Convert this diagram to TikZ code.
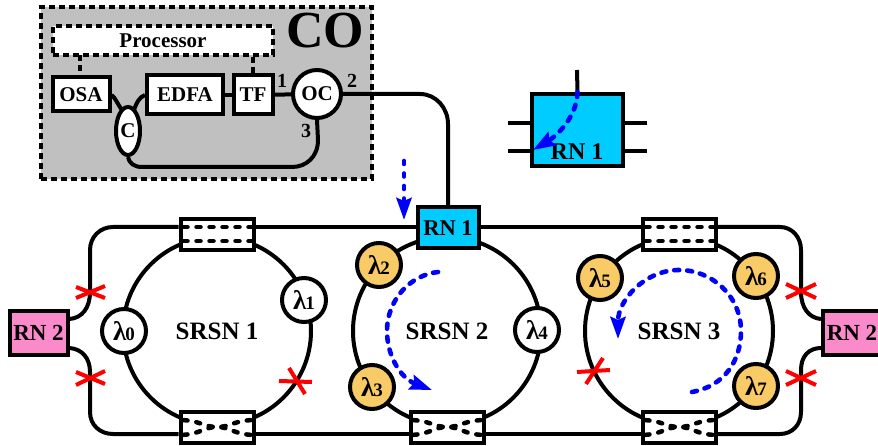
\documentclass[tikz,border=0pt]{standalone}
\usepackage{fontspec}
\usepackage{xcolor}
\usepackage{tikz}
\usetikzlibrary{arrows.meta,shapes.geometric}
\setmainfont{Liberation Serif}
\definecolor{cogray}{HTML}{C0C0C0}
\definecolor{rnblue}{HTML}{00CCFF}
\definecolor{rnpink}{HTML}{FB8ACB}
\definecolor{lamgold}{HTML}{F9CB66}
\newcommand{\lam}[1]{{\fontsize{27}{27}\selectfont λ}\kern-1pt{\fontsize{19}{19}\selectfont #1}}
\tikzset{
  txt/.style={font=\bfseries\fontsize{21}{24}\selectfont,inner sep=0},
  box/.style={txt,draw,line width=4,fill=white,rectangle},
  fiber/.style={line width=4},
  procdash/.style={line width=4,dash pattern=on 6 off 4},
  cpdash/.style={line width=4.5,line cap=round,dash pattern=on 4 off 9,dash phase=-5},
  coupler/.style={draw,line width=4,fill=white,minimum width=73,minimum height=31,inner sep=0},
  ring/.style={txt,font=\bfseries\fontsize{25}{28}\selectfont,draw,circle,line width=4,minimum size=188},
  lamw/.style={txt,draw,circle,line width=4,fill=white,minimum size=44},
  lamy/.style={lamw,fill=lamgold},
  redx/.style={red,line width=4},
  bluedash/.style={blue,line width=4.6,line cap=round,dash pattern=on 5 off 8,-{Stealth[length=22,width=15,inset=3]}}
}
\begin{document}
\begin{tikzpicture}[x=1pt,y=1pt,yscale=-1]
\useasboundingbox (0,0) rectangle (878,446);
% central office
\node[draw,line width=4,dash pattern=on 6 off 4,fill=cogray,minimum width=331,minimum height=172,inner sep=0] (co) at (206,93.5) {};
\node[txt,font=\bfseries\fontsize{52}{56}\selectfont] (colabel) at (325,31) {CO};
\node[box,dash pattern=on 6 off 4,minimum width=220,minimum height=29] (proc) at (163,40.5) {Processor};
\node[box,minimum width=57,minimum height=34] (osa) at (81,94.5) {OSA};
\node[box,minimum width=76,minimum height=39] (edfa) at (185,95) {EDFA};
\node[box,minimum width=39,minimum height=39] (tf) at (253,95) {TF};
\node[box,circle,minimum size=48] (oc) at (317,94) {OC};
\node[box,ellipse,minimum width=24,minimum height=48] (cpl) at (128,131) {C};
\node[txt,font=\bfseries\fontsize{20}{20}\selectfont] (pa) at (282,81) {1};
\node[txt,font=\bfseries\fontsize{20}{20}\selectfont] (pb) at (352,81) {2};
\node[txt,font=\bfseries\fontsize{20}{20}\selectfont] (pc) at (306,131) {3};
%
\draw[procdash] (80,55)--(osa.north -| 80,0);
\draw[procdash] (tf.north |- proc.south)--(tf.north);
\draw[fiber] (edfa)--(tf);
\draw[fiber] (tf)--(oc);
\draw[fiber] (osa.east |- 0,95) .. controls (115,97) and (118,105) .. (122,110);
\draw[fiber] (edfa.west |- 0,95) .. controls (139,97) and (136,104) .. (134,110);
\draw[fiber] (oc.south)--(318,140) .. controls (318,157) and (306,167) .. (292,167)--(142,167) .. controls (134,167) and (129,163) .. (cpl.south);
% rings
\node[ring] (srsna) at (217,331) {SRSN 1};
\node[ring] (srsnb) at (447,331) {SRSN 2};
\node[ring] (srsnc) at (679,331) {SRSN 3};
% couplers and remote nodes
\node[coupler] (cpa) at (217,234.5) {};
\node[coupler] (cpb) at (217,427) {};
\node[coupler] (cpc) at (679,234.5) {};
\node[coupler] (cpd) at (447,427) {};
\node[coupler] (cpe) at (679,427) {};
\node[box,fill=rnblue,minimum width=61,minimum height=41] (rna) at (448,228) {\fontsize{22.5}{24}\selectfont RN 1};
\node[box,fill=rnpink,minimum width=58,minimum height=44] (rnl) at (38.5,333) {\fontsize{23}{24}\selectfont RN 2};
\node[box,fill=rnpink,minimum width=58,minimum height=44] (rnr) at (852,333) {\fontsize{23}{24}\selectfont RN 2};
%
\draw[fiber] (oc.east)--(420,94) .. controls (436,94) and (448,108) .. (448,124)--(rna.north);
\draw[fiber] (rnl.east |- 0,319) .. controls (82,318) and (90,308) .. (90,292)--(90,250) .. controls (90,237) and (100,227) .. (113,227)--(cpa.west |- 0,227);
\draw[fiber] (rnl.east |- 0,348) .. controls (82,349) and (90,358) .. (90,372)--(90,412) .. controls (90,425) and (100,434) .. (113,434)--(cpb.west |- 0,434);
\draw[fiber] (cpa.east |- 0,227)--(rna.west |- 0,227);
\draw[fiber] (rna.east |- 0,227)--(cpc.west |- 0,227);
\draw[fiber] (cpb.east |- 0,434)--(cpd.west |- 0,434);
\draw[fiber] (cpd.east |- 0,434)--(cpe.west |- 0,434);
\draw[fiber] (cpc.east |- 0,227)--(780,227) .. controls (792,227) and (801,237) .. (801,250)--(801,292) .. controls (801,308) and (809,318) .. (rnr.west |- 0,319);
\draw[fiber] (cpe.east |- 0,434)--(780,434) .. controls (792,434) and (801,425) .. (801,412)--(801,370) .. controls (801,356) and (809,348) .. (rnr.west |- 0,348);
% coupler insides
\draw[cpdash] (cpa.west |- 0,227)--(cpa.east |- 0,227);
\draw[cpdash] (cpa.west |- 0,241)--(cpa.east |- 0,241);
\draw[cpdash] (cpc.west |- 0,227)--(cpc.east |- 0,227);
\draw[cpdash] (cpc.west |- 0,241)--(cpc.east |- 0,241);
\draw[cpdash] (cpb.west |- 0,420) .. controls (200,420) and (203,427) .. (cpb.center) .. controls (231,427) and (234,420) .. (cpb.east |- 0,420);
\draw[cpdash] (cpb.west |- 0,435) .. controls (200,435) and (203,427) .. (cpb.center) .. controls (231,427) and (234,435) .. (cpb.east |- 0,435);
\draw[cpdash] (cpd.west |- 0,420) .. controls (430,420) and (433,427) .. (cpd.center) .. controls (461,427) and (464,420) .. (cpd.east |- 0,420);
\draw[cpdash] (cpd.west |- 0,435) .. controls (430,435) and (433,427) .. (cpd.center) .. controls (461,427) and (464,435) .. (cpd.east |- 0,435);
\draw[cpdash] (cpe.west |- 0,420) .. controls (662,420) and (665,427) .. (cpe.center) .. controls (693,427) and (696,420) .. (cpe.east |- 0,420);
\draw[cpdash] (cpe.west |- 0,435) .. controls (662,435) and (665,427) .. (cpe.center) .. controls (693,427) and (696,435) .. (cpe.east |- 0,435);
% wavelengths
\node[lamw] (lza) at (124,331) {\lam{0}};
\node[lamw] (lzb) at (304,300) {\lam{1}};
\node[lamy] (lzc) at (379,265) {\lam{2}};
\node[lamy] (lzd) at (372,387) {\lam{3}};
\node[lamw] (lze) at (537,330) {\lam{4}};
\node[lamy] (lzf) at (600,278) {\lam{5}};
\node[lamy] (lzg) at (756,276) {\lam{6}};
\node[lamy] (lzh) at (756,386) {\lam{7}};
% fibre breaks
\draw[redx] (76,287)--(105,298);
\draw[redx] (76,298)--(105,286);
\draw[redx] (76,372)--(105,384);
\draw[redx] (76,385)--(105,371);
\draw[redx] (279,381)--(312,382);
\draw[redx] (289,368)--(305,394);
\draw[redx] (577,372)--(610,370);
\draw[redx] (586,384)--(603,358);
\draw[redx] (786,284)--(816,298);
\draw[redx] (786,298)--(816,284);
\draw[redx] (786,371)--(816,385);
\draw[redx] (786,385)--(816,371);
% signal direction
\draw[bluedash,dash pattern=on 3 off 9.5] (404,161)--(404,220);
\draw[bluedash] (438,272) .. controls (410,275) and (387,300) .. (387,331) .. controls (387,355) and (400,378) .. (432,390);
\draw[bluedash] (692,392) .. controls (725,386) and (741,360) .. (741,331) .. controls (741,296) and (712,270) .. (679,270) .. controls (645,270) and (618,300) .. (618,339);
% legend of the remote node
\node[box,fill=rnblue,minimum width=91,minimum height=72] (rnb) at (577.5,130) {};
\node[txt,font=\bfseries\fontsize{24}{24}\selectfont] (rnbt) at (577,152) {RN 1};
\coordinate (sa) at (577,70);
\coordinate (sb) at (508,123);
\coordinate (sc) at (508,151);
\coordinate (sd) at (647,123);
\coordinate (se) at (647,151);
\draw[fiber] (sa)--(rnb.north);
\draw[fiber] (sb)--(rnb.west |- sb);
\draw[fiber] (sc)--(rnb.west |- sc);
\draw[fiber] (sd)--(rnb.east |- sd);
\draw[fiber] (se)--(rnb.east |- se);
\draw[bluedash] (rnb.north) .. controls (577,118) and (555,137) .. (533,150);
\end{tikzpicture}
\end{document}
